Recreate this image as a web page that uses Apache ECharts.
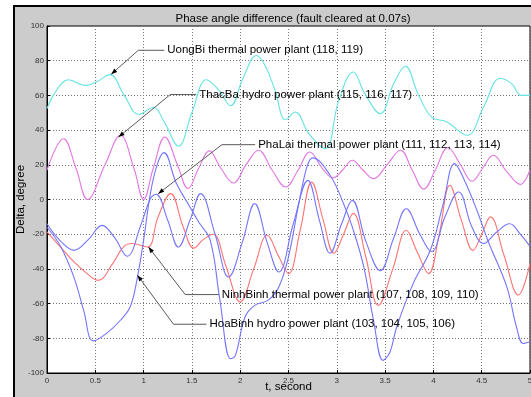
<!DOCTYPE html>
<html><head><meta charset="utf-8">
<script src="https://cdn.jsdelivr.net/npm/echarts@6/dist/echarts.min.js"></script>
<style>
html,body{margin:0;padding:0;background:#fff;}
#frame{position:absolute;left:13px;top:5px;width:518px;height:392px;background:#cccccc;border-top:2px solid #000;border-left:2px solid #000;box-sizing:border-box;}
#chart{position:absolute;left:0;top:0;width:531px;height:397px;}
</style></head><body>
<div id="frame"></div>
<div id="chart"></div>
<script>
const titleText = 'Phase angle difference (fault cleared at 0.07s)';
const xName = 't, second';
const yName = 'Delta, degree';
const xTicks = [0, 0.5, 1, 1.5, 2, 2.5, 3, 3.5, 4, 4.5, 5];
const yTicks = [-100, -80, -60, -40, -20, 0, 20, 40, 60, 80, 100];

// UongBi thermal power plant (118, 119)
const uongBi = [[0,52.4],[0.1,63],[0.22,69],[0.4,65.8],[0.52,68],[0.65,72],[0.8,60],[0.95,49],[1.1,53],[1.22,44],[1.36,30.7],[1.5,50],[1.65,69],[1.78,63],[1.9,54],[2.03,70],[2.17,83],[2.26,77],[2.36,63],[2.47,46],[2.57,50.4],[2.71,38],[2.88,29.3],[3.02,57],[3.17,73.5],[3.29,61],[3.45,49.5],[3.59,66.8],[3.71,76.8],[3.84,61],[3.98,47.6],[4.14,44.7],[4.35,37],[4.52,53.3],[4.69,69.7],[4.81,66.8],[4.91,60],[5,60]];
// ThacBa hydro power plant (115, 116, 117)
const thacBa = [[0,17],[0.17,35],[0.3,18],[0.42,0],[0.6,20],[0.76,37],[0.9,18],[1.0,0],[1.1,18],[1.22,36],[1.35,20],[1.46,6.3],[1.57,18],[1.68,28],[1.8,18],[1.93,9.5],[2.06,20],[2.19,28.4],[2.33,17],[2.47,7.2],[2.6,17],[2.72,27.4],[2.85,18],[2.96,12.5],[3.06,17],[3.16,22.6],[3.27,17],[3.38,12],[3.52,20],[3.66,28.4],[3.78,17],[3.9,6],[4.02,17],[4.15,30],[4.28,20],[4.4,10.5],[4.51,18],[4.62,25.5],[4.76,16],[4.9,8.7],[5,17]];
// NinhBinh thermal power plant (107, 108, 109, 110)
const ninhBinh = [[0,-18.7],[0.14,-27.4],[0.28,-36],[0.4,-42],[0.53,-46.6],[0.68,-37],[0.79,-27.4],[0.88,-25.4],[1.04,-27.4],[1.15,-10],[1.28,3.4],[1.41,-15.8],[1.52,-28],[1.62,-23],[1.72,-20],[1.85,-38],[2.0,-59],[2.14,-40],[2.28,-20.6],[2.4,-33],[2.5,-42.7],[2.62,-18],[2.74,10],[2.86,-12],[2.97,-31],[3.07,-20],[3.17,-8],[3.3,-33],[3.43,-61],[3.58,-40],[3.72,-17.7],[3.83,-30],[3.95,-42.7],[4.06,-20],[4.17,8.2],[4.29,-12],[4.41,-29.3],[4.5,-20],[4.59,-10],[4.73,-32],[4.88,-55],[5,-37]];
// HoaBinh hydro power plant (103, 104, 105, 106)
const hoaBinh = [[0,-16],[0.14,-27],[0.28,-45],[0.38,-64],[0.48,-81.5],[0.62,-77],[0.76,-69.6],[0.86,-62],[0.93,-46.6],[1.0,-23.5],[1.07,3.4],[1.14,20],[1.21,27],[1.34,9.2],[1.48,-4.3],[1.57,-13],[1.69,-23.5],[1.79,-58],[1.9,-91.7],[1.95,-90],[2.05,-67.7],[2.15,-61],[2.29,-58],[2.4,-50.4],[2.5,-33],[2.6,-4.3],[2.69,18.7],[2.75,24],[2.93,14],[3.07,-2.4],[3.16,-15.8],[3.28,-39],[3.38,-69.6],[3.48,-92.7],[3.55,-88],[3.62,-73.5],[3.79,-48.5],[3.97,-29],[4.1,-3],[4.22,20.7],[4.33,10],[4.45,-6.2],[4.57,-24.5],[4.76,-50.4],[4.86,-73.5],[4.93,-83],[5,-82]];
// PhaLai thermal power plant (111, 112, 113, 114)
const phaLai = [[0,-14],[0.14,-24],[0.28,-29.3],[0.43,-23],[0.57,-14.9],[0.7,-22],[0.83,-32.7],[0.97,-15],[1.07,0.5],[1.13,3],[1.25,-12],[1.36,-27.4],[1.48,-12],[1.59,3.4],[1.74,-20],[1.88,-44.7],[2.02,-25],[2.15,-2.4],[2.28,-25],[2.4,-41.8],[2.55,-14],[2.7,11],[2.82,-12],[2.93,-31],[3.05,-14],[3.16,-0.5],[3.3,-24],[3.45,-41],[3.59,-22],[3.72,-5.3],[3.86,-20],[3.98,-30],[4.12,-10],[4.26,4.3],[4.4,-16],[4.52,-25.4],[4.65,-19],[4.79,-14],[4.9,-20],[5,-27]];

const seriesDefs = [
  {name:'UongBi', data:uongBi, color:'#66e2e2'},
  {name:'ThacBa', data:thacBa, color:'#e276e2'},
  {name:'NinhBinh', data:ninhBinh, color:'#ff7272'},
  {name:'HoaBinh', data:hoaBinh, color:'#7474ff'},
  {name:'PhaLai', data:phaLai, color:'#7474ff'}
];

// annotations: arrow tip and elbow in data coordinates, text start t
const annotations = [
  {label:'UongBi thermal power plant (118, 119)', tip:[0.665,72.2], elbow:[0.945,86.0], textT:1.245},
  {label:'ThacBa hydro power plant (115, 116, 117)', tip:[0.741,36.0], elbow:[1.276,60.5], textT:1.576},
  {label:'PhaLai thermal power plant (111, 112, 113, 114)', tip:[1.151,3.3], elbow:[1.810,31.6], textT:2.186},
  {label:'NinhBinh thermal power plant (107, 108, 109, 110)', tip:[1.051,-27.4], elbow:[1.431,-54.8], textT:1.810},
  {label:'HoaBinh hydro power plant (103, 104, 105, 106)', tip:[0.937,-43.7], elbow:[1.310,-71.9], textT:1.682}
];

const FONT = '"Liberation Sans", Arial, sans-serif';
const chart = echarts.init(document.getElementById('chart'), null, {renderer:'canvas'});
const gridLine = {show:true, lineStyle:{color:'#777', width:1, type:[1,2]}};
chart.setOption({
  animation:false,
  backgroundColor:'transparent',
  title:{text:titleText, left:288, top:8, textAlign:'center',
    textStyle:{fontFamily:FONT, fontSize:11.5, fontWeight:'normal', color:'#000'}},
  grid:{left:47, top:26, width:483, height:347, show:true, backgroundColor:'#fff', borderColor:'#000', borderWidth:1, outerBoundsMode:'none', containLabel:false},
  xAxis:{type:'value', min:xTicks[0], max:xTicks[xTicks.length-1], interval:xTicks[1]-xTicks[0],
    name:xName, nameLocation:'middle', nameGap:8, nameMoveOverlap:false,
    nameTextStyle:{fontFamily:FONT, fontSize:11.5, color:'#000'},
    axisLine:{show:true, onZero:false, lineStyle:{color:'#000'}},
    axisTick:{show:true, inside:true, length:3, lineStyle:{color:'#000'}},
    axisLabel:{fontFamily:FONT, fontSize:8, color:'#333', margin:4, showMaxLabel:true, showMinLabel:true, hideOverlap:false},
    splitLine:gridLine},
  yAxis:{type:'value', min:yTicks[0], max:yTicks[yTicks.length-1], interval:yTicks[1]-yTicks[0],
    name:yName, nameLocation:'middle', nameGap:20, nameRotate:90, nameMoveOverlap:false,
    nameTextStyle:{fontFamily:FONT, fontSize:11.5, color:'#000'},
    axisLine:{show:true, onZero:false, lineStyle:{color:'#000'}},
    axisTick:{show:true, inside:true, length:3, lineStyle:{color:'#000'}},
    axisLabel:{fontFamily:FONT, fontSize:8, color:'#333', margin:3, showMaxLabel:true, showMinLabel:true, hideOverlap:false},
    splitLine:gridLine},
  series: seriesDefs.map(s => ({
    name:s.name, type:'line', data:s.data, showSymbol:false, smooth:0.4,
    lineStyle:{color:s.color, width:1.1}, itemStyle:{color:s.color}, clip:true, z:2
  }))
});

function buildAnnotations(){
  const g = [];
  annotations.forEach(a => {
    const tip = chart.convertToPixel({gridIndex:0}, a.tip);
    const elb = chart.convertToPixel({gridIndex:0}, a.elbow);
    const tx = chart.convertToPixel({gridIndex:0}, [a.textT, a.elbow[1]]);
    g.push({type:'polyline', silent:true, z:100,
      shape:{points:[[tx[0]-3, elb[1]], elb, tip]},
      style:{stroke:'#5a5a5a', lineWidth:1, fill:null}});
    const dx = tip[0]-elb[0], dy = tip[1]-elb[1];
    const len = Math.hypot(dx, dy); const ux = dx/len, uy = dy/len;
    const L = 6, W = 2.2;
    const bx = tip[0]-ux*L, by = tip[1]-uy*L;
    g.push({type:'polygon', silent:true, z:101,
      shape:{points:[tip, [bx-uy*W, by+ux*W], [bx+uy*W, by-ux*W]]},
      style:{fill:'#000'}});
    g.push({type:'text', silent:true, z:102, x:tx[0], y:elb[1],
      style:{text:a.label, font:'11.5px ' + FONT, fill:'#000', align:'left', verticalAlign:'middle'}});
  });
  chart.setOption({graphic:g});
}
buildAnnotations();
</script>
</body></html>
